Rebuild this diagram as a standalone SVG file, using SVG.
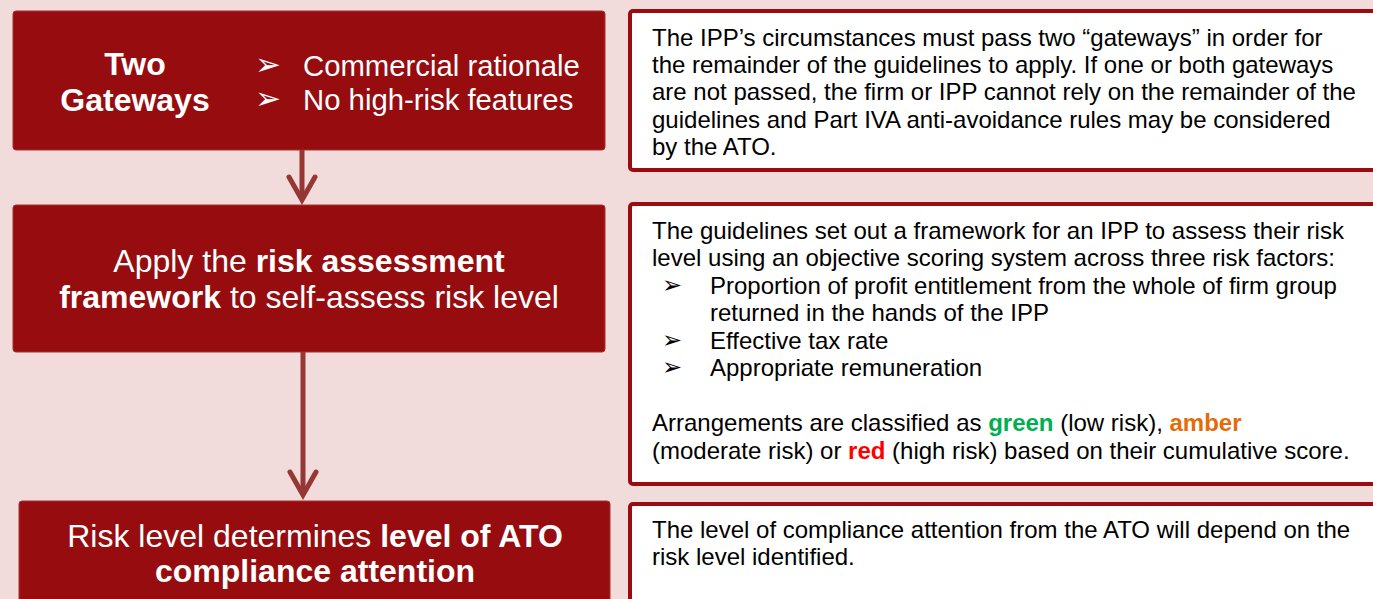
<svg xmlns="http://www.w3.org/2000/svg" width="1373" height="599" viewBox="0 0 1373 599">
  <style>
    .step { fill: #960c0f; stroke: #a8302f; stroke-width: 1; }
    .note { fill: #ffffff; stroke: #9a0c10; stroke-width: 4; }
    .wt { font-family: "Liberation Sans", Arial, sans-serif; fill: #ffffff; }
    .bt { font-family: "Liberation Sans", Arial, sans-serif; fill: #000000; font-size: 24px; }
    .b { font-weight: bold; }
    .bul { font-family: "DejaVu Sans", sans-serif; }
    .link { stroke: #953735; stroke-width: 5; fill: none; }
  </style>
  <defs>
    <marker id="chev" markerUnits="userSpaceOnUse" viewBox="-30 -20 36 40" refX="0" refY="0" markerWidth="36" markerHeight="40" orient="auto" overflow="visible">
      <path d="M-23,-13 L0,0 L-23,13" fill="none" stroke="#953735" stroke-width="5" stroke-linecap="round" stroke-linejoin="miter"/>
    </marker>
  </defs>

  <!-- page background -->
  <rect x="0" y="0" width="1373" height="599" fill="#f2dcdb"/>

  <!-- flow connectors -->
  <g id="connectors">
    <line class="link" x1="302" y1="150" x2="302" y2="200" marker-end="url(#chev)"/>
    <line class="link" x1="303" y1="352" x2="303" y2="495" marker-end="url(#chev)"/>
  </g>

  <!-- step 1: gateways -->
  <g id="step-gateways">
    <rect class="step" x="13" y="11" width="592" height="139" rx="3"/>
    <text class="wt b" font-size="32" x="135" y="75" text-anchor="middle">Two</text>
    <text class="wt b" font-size="32" x="135" y="111" text-anchor="middle">Gateways</text>
    <text class="wt bul" font-size="31" x="255" y="75">&#10146;</text>
    <text class="wt bul" font-size="31" x="255" y="109">&#10146;</text>
    <text class="wt" font-size="29.3" x="303" y="76">Commercial rationale</text>
    <text class="wt" font-size="29.3" x="303" y="110">No high-risk features</text>
  </g>

  <!-- step 2: risk assessment -->
  <g id="step-assess">
    <rect class="step" x="13" y="205" width="592" height="147" rx="3"/>
    <text class="wt" font-size="32" x="309" y="272" text-anchor="middle">Apply the <tspan class="b">risk assessment</tspan></text>
    <text class="wt" font-size="32" x="309" y="308" text-anchor="middle"><tspan class="b">framework</tspan> to self-assess risk level</text>
  </g>

  <!-- step 3: compliance attention -->
  <g id="step-compliance">
    <rect class="step" x="19" y="501" width="591" height="120" rx="3"/>
    <text class="wt" font-size="32" x="315" y="547" text-anchor="middle">Risk level determines <tspan class="b">level of ATO</tspan></text>
    <text class="wt b" font-size="32" x="315" y="582" text-anchor="middle">compliance attention</text>
  </g>

  <!-- note 1 -->
  <g id="note-gateways">
    <rect class="note" x="630" y="11" width="800" height="159" rx="3"/>
    <text class="bt" x="652" y="46">The IPP&#8217;s circumstances must pass two &#8220;gateways&#8221; in order for</text>
    <text class="bt" x="652" y="73">the remainder of the guidelines to apply. If one or both gateways</text>
    <text class="bt" x="652" y="100">are not passed, the firm or IPP cannot rely on the remainder of the</text>
    <text class="bt" x="652" y="128">guidelines and Part IVA anti-avoidance rules may be considered</text>
    <text class="bt" x="652" y="155">by the ATO.</text>
  </g>

  <!-- note 2 -->
  <g id="note-assess">
    <rect class="note" x="630" y="204" width="800" height="280" rx="3"/>
    <text class="bt" x="652" y="239">The guidelines set out a framework for an IPP to assess their risk</text>
    <text class="bt" x="652" y="266">level using an objective scoring system across three risk factors:</text>
    <text class="bt bul" font-size="22" x="662" y="293">&#10146;</text>
    <text class="bt" x="710" y="294">Proportion of profit entitlement from the whole of firm group</text>
    <text class="bt" x="710" y="321">returned in the hands of the IPP</text>
    <text class="bt bul" font-size="22" x="662" y="348">&#10146;</text>
    <text class="bt" x="710" y="349">Effective tax rate</text>
    <text class="bt bul" font-size="22" x="662" y="375">&#10146;</text>
    <text class="bt" x="710" y="376">Appropriate remuneration</text>
    <text class="bt" x="652" y="431">Arrangements are classified as <tspan class="b" fill="#00b050">green</tspan> (low risk), <tspan class="b" fill="#e36c0a">amber</tspan></text>
    <text class="bt" x="652" y="459">(moderate risk) or <tspan class="b" fill="#ff0000">red</tspan> (high risk) based on their cumulative score.</text>
  </g>

  <!-- note 3 -->
  <g id="note-compliance">
    <rect class="note" x="630" y="504" width="800" height="120" rx="3"/>
    <text class="bt" x="652" y="538">The level of compliance attention from the ATO will depend on the</text>
    <text class="bt" x="652" y="565">risk level identified.</text>
  </g>
</svg>
